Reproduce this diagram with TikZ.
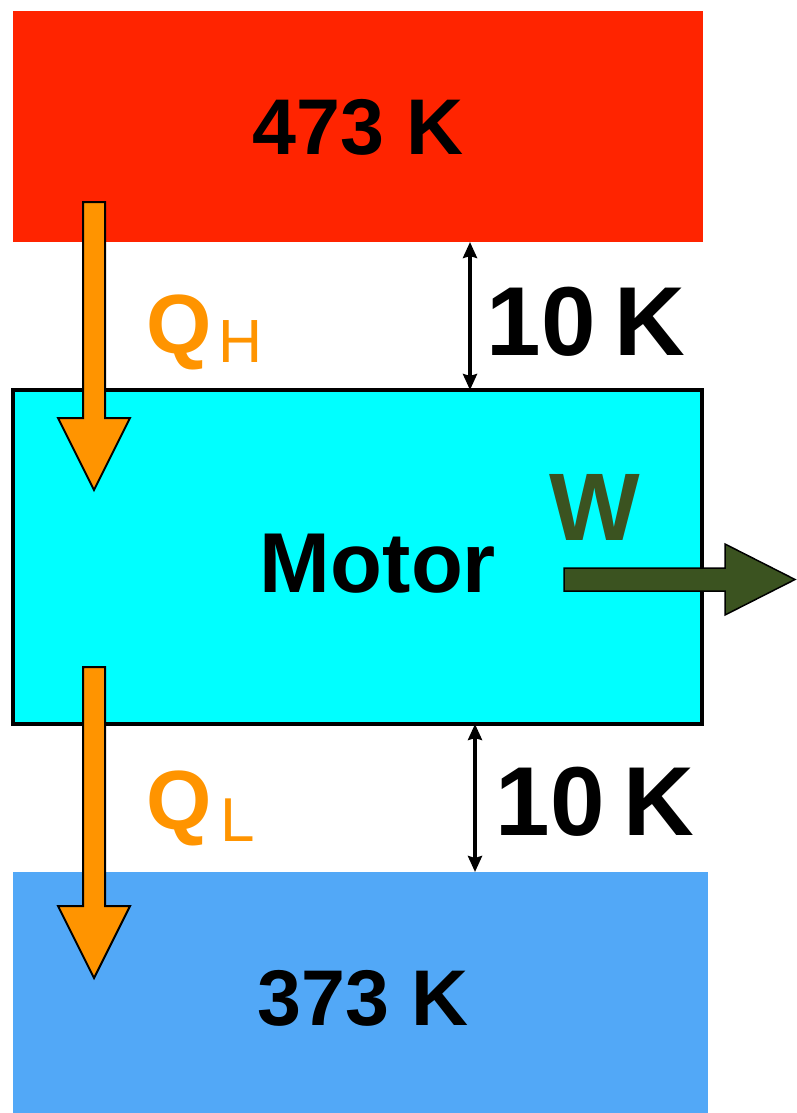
\documentclass[tikz,border=0pt]{standalone}
\usepackage{fontspec}
\setmainfont{Liberation Sans}
\usetikzlibrary{arrows.meta}
\definecolor{hotred}{HTML}{FF2400}
\definecolor{motorcyan}{HTML}{00FFFF}
\definecolor{coldblue}{HTML}{52A8F7}
\definecolor{heatorange}{HTML}{FF9400}
\definecolor{workgreen}{HTML}{3B5320}

\begin{document}
\begin{tikzpicture}[x=1pt,y=-1pt,
  box/.style={rectangle,inner sep=0pt,outer sep=0pt},
  lbl/.style={font=\fontsize{#1}{#1}\selectfont\bfseries,inner sep=0pt},
  heat/.style={draw=black,fill=heatorange,line width=2pt,line join=miter},
  gap/.style={line width=3.5pt,{Stealth[length=16pt,width=14pt,inset=2pt]}-{Stealth[length=16pt,width=14pt,inset=2pt]}}]
\useasboundingbox (0,0) rectangle (796,1113);
% Reservoirs
\node[box,fill=hotred,minimum width=690pt,minimum height=231pt] (hot) at (358,126.5) {};
\node[box,fill=coldblue,minimum width=695pt,minimum height=241pt] (cold) at (360.5,992.5) {};
\node[lbl=79] (hottext) at (358,127) {473 K};
\node[lbl=79] (coldtext) at (363,998) {373 K};
% Engine
\node[box,draw=black,line width=4pt,fill=motorcyan,minimum width=689pt,minimum height=334pt] (motor) at (357.5,557) {};
\node[lbl=85] (motortext) at (378,563.5) {Motor};
% Temperature gaps
\coordinate (d1) at (470,0);
\coordinate (d2) at (475,0);
\draw[gap] (hot.south -| d1) -- (motor.north -| d1);
\draw[gap] (motor.south -| d2) -- (cold.north -| d2);
\node[lbl=98] (gaptop) at (586,322) {10\kern0.19em K};
\node[lbl=98] (gapbot) at (595,801.5) {10\kern0.19em K};
% Heat flows
\coordinate (qhtop) at (94,202);
\coordinate (qltop) at (94,667);
\draw[heat] (qhtop) ++(-11,0) -- ++(22,0) -- ++(0,216) -- ++(25,0) -- ++(-36,72)
  -- ++(-36,-72) -- ++(25,0) -- cycle;
\draw[heat] (qltop) ++(-11,0) -- ++(22,0) -- ++(0,239) -- ++(25,0) -- ++(-36,72)
  -- ++(-36,-72) -- ++(25,0) -- cycle;
\node[lbl=84,text=heatorange,anchor=base west] (qh) at (146,353)
  {Q\kern7pt\raisebox{-9pt}{\fontsize{61}{61}\selectfont\mdseries H}};
\node[lbl=84,text=heatorange,anchor=base west] (ql) at (146,829)
  {Q\kern9pt\raisebox{-12pt}{\fontsize{62}{62}\selectfont\mdseries L}};
% Work
\coordinate (wstart) at (564,579.5);
\draw[draw=black,fill=workgreen,line width=1.5pt,line join=miter] (wstart) ++(0,-11.5)
  -- ++(161,0) -- ++(0,-24) -- ++(70,35.5) -- ++(-70,35.5) -- ++(0,-24) -- ++(-161,0) -- cycle;
\node[lbl=96,text=workgreen] (wtext) at (595,507.5) {W};
\end{tikzpicture}
\end{document}
